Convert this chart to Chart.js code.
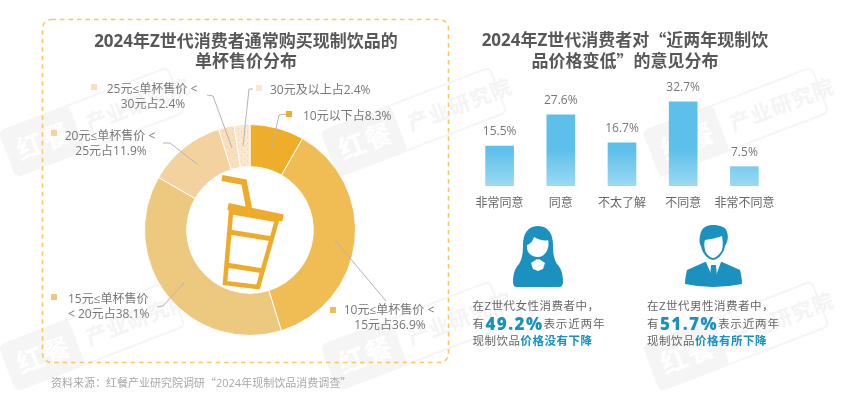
<!DOCTYPE html>
<html lang="zh">
<head>
<meta charset="utf-8">
<script src="https://cdn.jsdelivr.net/npm/chart.js@4"></script>
<style>
html,body{margin:0;padding:0;background:#fff;width:850px;height:404px;overflow:hidden}
body{position:relative;font-family:"Open Sans","Noto Sans CJK SC",sans-serif}
svg{position:absolute;left:0;top:0}
.box{position:absolute}
text{font-family:"Open Sans","Noto Sans CJK SC",sans-serif;dominant-baseline:central}
.q{font-family:"Noto Sans CJK SC",sans-serif}
.title{font-size:17px;font-weight:700;fill:#585858;text-anchor:middle}
.lab{font-size:12px;fill:#777}
.mid{text-anchor:middle}
.note{font-size:11.5px;fill:#666;letter-spacing:.5px}
.big{font-size:17px;font-weight:800;fill:#1b91c0;letter-spacing:1.4px}
.wide{letter-spacing:.9px}
.em{font-weight:700;fill:#1b91c0}
.wm rect.l{fill:#f5f5f5}
.wm rect.o{fill:none;stroke:#f5f5f5;stroke-width:2}
.wm text{font-size:21px;font-weight:700;fill:#f4f4f4;letter-spacing:1px}
.wm text.w{fill:#fff;font-size:27px}
.lead{fill:none;stroke:#b4b4b4;stroke-width:1}
</style>
</head>
<body>
<svg id="bg" width="850" height="404">
  <defs>
    <g id="mark" class="wm">
      <rect class="o" x="-90" y="-24" width="180" height="48" rx="5"/>
      <rect class="l" x="-90" y="-24" width="74" height="48" rx="5"/>
      <text class="w" x="-80" y="0">红餐</text>
      <text x="-6" y="0">产业研究院</text>
    </g>
  </defs>
  <use href="#mark" transform="translate(92 122) rotate(-21)"/>
  <use href="#mark" transform="translate(414 122) rotate(-21)"/>
  <use href="#mark" transform="translate(736 122) rotate(-21)"/>
  <use href="#mark" transform="translate(92 336) rotate(-21)"/>
  <use href="#mark" transform="translate(414 336) rotate(-21)"/>
  <use href="#mark" transform="translate(736 336) rotate(-21)"/>
  <rect x="42.5" y="19.5" width="406" height="343" rx="9" fill="none" stroke="#f8c76a" stroke-width="1.6" stroke-dasharray="4.5 4"/>
</svg>

<div class="box" style="left:144px;top:124px;width:212px;height:212px"><canvas id="pie" width="212" height="212"></canvas></div>
<div class="box" style="left:469px;top:70px;width:306px;height:145px"><canvas id="bars" width="306" height="145"></canvas></div>

<svg id="fg" width="850" height="404">
  <text class="title" x="246" y="40">2024年Z世代消费者通常购买现制饮品的</text>
  <text class="title" x="246" y="60">单杯售价分布</text>
  <text class="title" x="625" y="39">2024年Z世代消费者对<tspan class="q">“</tspan>近两年现制饮</text>
  <text class="title" x="625" y="60">品价格变低<tspan class="q">”</tspan>的意见分布</text>

  <g id="cup" fill="none" stroke="#eeab2a">
    <polyline points="222,178 244,182 249,208" stroke-width="6"/>
    <line x1="228" y1="206.500" x2="283" y2="218" stroke-width="7"/>
    <polygon points="231,212 225,283 258,287 277,220" stroke-width="4.500" stroke-linejoin="miter"/>
    <line x1="229" y1="232" x2="273" y2="239" stroke-width="5"/>
    <line x1="226" y1="265" x2="264" y2="271" stroke-width="5"/>
  </g>

  <polyline class="lead" points="287,114 279,115 272,148"/>
  <polyline class="lead" points="253,89 249,89 243,146"/>
  <polyline class="lead" points="207,95 213,96 232,148"/>
  <polyline class="lead" points="163,143 170,143 197,164"/>
  <polyline class="lead" points="157,307 163,306 184,283"/>
  <polyline class="lead" points="386,301 334,239"/>

  <rect x="286" y="111" width="6" height="6" fill="#eeae29"/>
  <rect x="256" y="85" width="6" height="6" fill="#fbe6d0"/>
  <rect x="91" y="84" width="6" height="6" fill="#f9dfbe"/>
  <rect x="51" y="130" width="6" height="6" fill="#f4d29f"/>
  <rect x="51" y="294" width="6" height="6" fill="#edc97f"/>
  <rect x="330" y="307" width="6" height="6" fill="#f0bc54"/>

  <text class="lab" x="270" y="89">30元及以上占2.4%</text>
  <text class="lab" x="303" y="115">10元以下占8.3%</text>
  <text class="lab mid" x="152" y="88">25元≤单杯售价 &lt;</text>
  <text class="lab mid" x="153" y="103">30元占2.4%</text>
  <text class="lab mid" x="110" y="135">20元≤单杯售价 &lt;</text>
  <text class="lab mid" x="111" y="150">25元占11.9%</text>
  <text class="lab" x="68" y="298">15元≤单杯售价</text>
  <text class="lab" x="68" y="313">&lt; 20元占38.1%</text>
  <text class="lab mid" x="389" y="309">10元≤单杯售价 &lt;</text>
  <text class="lab mid" x="390" y="324">15元占36.9%</text>

  <g id="woman">
    <path fill="#1b91c0" d="M538 226C527 226 523 235 523 245C523 254 522 259 519 264C515 268 513 274 513 282Q513 287 517 287L559 287Q563 287 563 282C563 274 561 268 557 264C554 259 553 254 553 245C553 235 549 226 538 226Z"/>
    <path fill="#fff" d="M534 237C541 241 546 241 548 240C550 247 546 257 538 257C531 257 526 252 527 245C530 244 533 241 534 237Z"/>
    <polygon fill="#fff" points="531,263 537,259 538,260 539,259 545,263 543,269 538,271 533,269"/>
  </g>
  <g id="man">
    <path fill="#1b91c0" d="M701 232C703 226 709 225 713 225C720 225 726 227 727 232C729 238 727 243 725 246C724 253 718 260 713 260C708 260 702 253 701 246C699 243 699 238 701 232Z"/>
    <path fill="#fff" d="M705 240C711 239 717 238 722 236C723 241 723 246 722 250C720 254 716 258 713 258C710 258 706 254 705 250C704 246 704 243 705 240Z"/>
    <path fill="#1b91c0" d="M687 270L705 262L722 262L740 270C741 274 742 279 742 284Q713 290 685 284C685 279 686 274 687 270Z"/>
    <polygon fill="#fff" points="706,262 721,262 714,281"/>
    <polygon fill="#1b91c0" points="711,265 716,265 717,277 713.500,282 710,277"/>
  </g>

  <text class="note" x="472.500" y="305">在Z世代女性消费者中，</text>
  <text class="note" x="472.500" y="323">有<tspan class="big" dx="1">49.2%</tspan><tspan class="wide" dx="0">表示近两年</tspan></text>
  <text class="note" x="472.500" y="340">现制饮品<tspan class="em">价格没有下降</tspan></text>

  <text class="note" x="647" y="305">在Z世代男性消费者中，</text>
  <text class="note" x="647" y="323">有<tspan class="big" dx="1">51.7%</tspan><tspan class="wide" dx="0">表示近两年</tspan></text>
  <text class="note" x="647" y="340">现制饮品<tspan class="em">价格有所下降</tspan></text>

  <text x="51" y="382" style="font-size:11px;fill:#a8a8a8">资料来源：红餐产业研究院调研<tspan class="q">“</tspan>2024年现制饮品消费调查<tspan class="q">”</tspan></text>
</svg>

<script>
const priceLabels = ["10元以下","10元≤单杯售价<15元","15元≤单杯售价<20元","20元≤单杯售价<25元","25元≤单杯售价<30元","30元及以上"];
const priceShares = [8.3,36.9,38.1,11.9,2.4,2.4];
const priceColors = ["#eeae29","#f0bc54","#edc97f","#f4d29f","#f9dfbe","#fbe6d0"];
const dottedSlices = [4,5];
const opinionLabels = ["非常同意","同意","不太了解","不同意","非常不同意"];
const opinionShares = [15.5,27.6,16.7,32.7,7.5];

Chart.defaults.animation = false;
Chart.defaults.font.family = '"Open Sans","Noto Sans CJK SC",sans-serif';

function dotted(base){
  const c = document.createElement("canvas");
  c.width = 6; c.height = 6;
  const x = c.getContext("2d");
  x.fillStyle = base; x.fillRect(0,0,6,6);
  x.fillStyle = "#f1cfa6"; x.fillRect(1,1,1,1); x.fillRect(4,4,1,1);
  return x.createPattern(c,"repeat");
}

new Chart(document.getElementById("pie"),{
  type:"doughnut",
  data:{labels:priceLabels,datasets:[{data:priceShares,
    backgroundColor:priceColors.map((col,i)=>dottedSlices.includes(i)?dotted(col):col),
    borderColor:"#fff",borderWidth:1}]},
  options:{responsive:false,cutout:"60%",layout:{padding:0},
    plugins:{legend:{display:false},tooltip:{enabled:false}}}
});

const valueLabels = {
  id:"valueLabels",
  afterDatasetsDraw(chart){
    const ctx = chart.ctx;
    ctx.save();
    ctx.font = '12px "Open Sans","Noto Sans CJK SC",sans-serif';
    ctx.fillStyle = "#777";
    ctx.textAlign = "center";
    ctx.textBaseline = "middle";
    chart.getDatasetMeta(0).data.forEach((bar,i)=>{
      ctx.fillText(opinionShares[i].toFixed(1)+"%",bar.x,bar.y-14);
    });
    ctx.restore();
  }
};

new Chart(document.getElementById("bars"),{
  type:"bar",
  data:{labels:opinionLabels,datasets:[{data:opinionShares,barThickness:28,
    backgroundColor(c){
      const a = c.chart.chartArea;
      if(!a) return "#5dc0ea";
      const g = c.chart.ctx.createLinearGradient(0,a.bottom-36,0,a.bottom);
      g.addColorStop(0,"#5dc0ea");
      g.addColorStop(1,"#9cd9f4");
      return g;
    }}]},
  options:{responsive:false,layout:{padding:0},
    scales:{
      y:{display:false,min:0,max:45},
      x:{grid:{display:false},border:{display:false},
        ticks:{color:"#666",font:{size:12},padding:2,maxRotation:0,autoSkip:false},
        afterFit(s){s.height=29;s.paddingLeft=0;s.paddingRight=0;}}
    },
    plugins:{legend:{display:false},tooltip:{enabled:false}}},
  plugins:[valueLabels]
});
</script>
</body>
</html>
